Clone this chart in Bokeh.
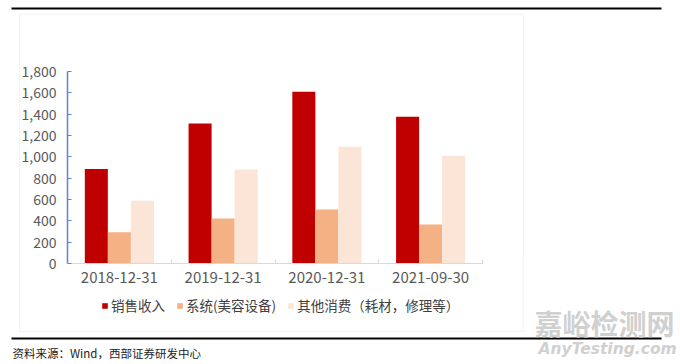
from bokeh.plotting import figure
from bokeh.models import (ColumnDataSource, Range1d, FixedTicker, NumeralTickFormatter,
                          Legend, LegendItem, Label, BoxAnnotation, LinearAxis)
from bokeh.transform import dodge
from bokeh.embed import file_html
from bokeh.resources import INLINE

categories = ["2018-12-31", "2019-12-31", "2020-12-31", "2021-09-30"]
sales = [885, 1312, 1609, 1375]
systems = [294, 422, 506, 366]
others = [588, 881, 1094, 1009]
series_names = ["销售收入", "系统(美容设备)", "其他消费（耗材，修理等）"]
colors = ["#C00000", "#F4B183", "#FBE5D6"]
y_ticks = [0, 200, 400, 600, 800, 1000, 1200, 1400, 1600, 1800]
source_note = "资料来源：Wind，西部证券研发中心"

W, H = 680, 364
FONT = "Noto Sans CJK SC"

# plot-area box on the canvas (pixels): left, right, top (value max), bottom (value 0)
PL, PR, PT, PB = 67, 482, 71, 263
YMAX = 1800
n = len(categories)

# page-pixel coordinates for the decorations (y grows downward)
p = figure(width=W, height=H, output_backend="svg", toolbar_location=None,
           x_range=Range1d(0, W), y_range=Range1d(H, 0),
           x_axis_type=None, y_axis_type=None,
           min_border=0, min_border_left=0, min_border_right=0,
           min_border_top=0, min_border_bottom=0)
p.outline_line_color = None
p.background_fill_color = "white"
p.border_fill_color = "white"

# value ranges mapped onto the plot-area box
xs = (PR - PL) / n
ys = (PB - PT) / YMAX
x0 = -PL / xs
y0 = -(H - PB) / ys
p.extra_x_ranges = {"v": Range1d(x0, x0 + W / xs)}
p.extra_y_ranges = {"v": Range1d(y0, y0 + H / ys)}

pos = [i + 0.5 for i in range(n)]
src = ColumnDataSource(dict(x=pos, sales=sales, systems=systems, others=others))

bw = 0.222
rs = []
for field, off, c in zip(["sales", "systems", "others"], [-bw, 0, bw], colors):
    r = p.vbar(x=dodge("x", off, range=p.extra_x_ranges["v"]), top=field, width=bw,
               source=src, fill_color=c, line_color=None,
               x_range_name="v", y_range_name="v")
    rs.append(r)

# x axis
xa = LinearAxis(x_range_name="v", y_range_name="v", fixed_location=0, bounds=(0, n))
xa.ticker = FixedTicker(ticks=pos, minor_ticks=list(range(1, n + 1)))
xa.major_label_overrides = {pp: c for pp, c in zip(pos, categories)}
xa.axis_line_color = "#D9D9D9"
xa.axis_line_width = 1.2
xa.major_tick_line_color = None
xa.major_tick_out = 0
xa.major_tick_in = 0
xa.minor_tick_line_color = "#D9D9D9"
xa.minor_tick_line_width = 1.2
xa.minor_tick_out = 0
xa.minor_tick_in = 4
xa.major_label_text_font = FONT
xa.major_label_text_font_size = "15px"
xa.major_label_text_color = "#595959"
xa.major_label_standoff = 8
p.add_layout(xa, "below")

ya = LinearAxis(x_range_name="v", y_range_name="v", fixed_location=0, bounds=(0, YMAX))
ya.ticker = FixedTicker(ticks=y_ticks)
ya.formatter = NumeralTickFormatter(format="0,0")
ya.axis_line_color = "#5B85D6"
ya.axis_line_width = 1.5
ya.major_tick_line_color = "#5B85D6"
ya.major_tick_line_width = 1.2
ya.major_tick_out = 0
ya.major_tick_in = 4
ya.minor_tick_line_color = None
ya.major_label_text_font = FONT
ya.major_label_text_font_size = "14px"
ya.major_label_text_color = "#595959"
ya.major_label_standoff = 11
p.add_layout(ya, "left")

# outer light frame
p.add_layout(BoxAnnotation(left=19, right=523, top=14, bottom=331,
                           fill_alpha=0, line_color="#D9D9D9", line_width=1.2))
# black rules
for Y in (8, 338):
    p.add_layout(BoxAnnotation(left=11, right=661, top=Y - 1, bottom=Y + 1,
                               fill_color="black", fill_alpha=1, line_color=None))

legend = Legend(items=[LegendItem(label=nm, renderers=[r]) for nm, r in zip(series_names, rs)],
                orientation="horizontal", location=(101, H - 315),
                glyph_width=7, glyph_height=7, label_standoff=3, spacing=11,
                padding=0, margin=0, border_line_color=None, background_fill_alpha=0,
                label_text_font=FONT, label_text_font_size="13.5px",
                label_text_color="#404040", label_height=14)
p.add_layout(legend, "center")

p.add_layout(Label(x=12, y=352, text=source_note, text_font=FONT, text_font_size="11.5px",
                   text_color="#222222", text_baseline="middle"))

# watermark
p.add_layout(Label(x=534, y=322, text="嘉峪检测网", text_font=FONT, text_font_size="28px",
                   text_font_style="bold", text_color="#D0D0D0", text_baseline="middle"))
p.add_layout(Label(x=538, y=348, text="AnyTesting.com", text_font="DejaVu Sans",
                   text_font_size="15.5px", text_font_style="bold italic",
                   text_color="#D0D0D0", text_baseline="middle"))

open("out.html", "w").write(file_html(p, INLINE))
